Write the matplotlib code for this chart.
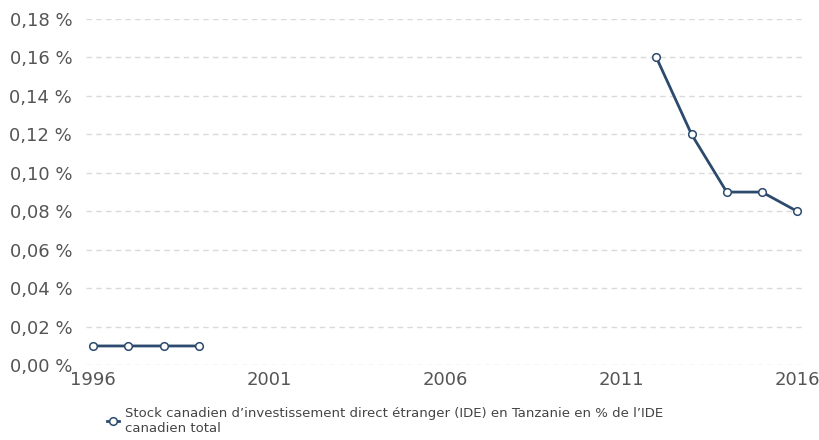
import numpy as np
import matplotlib.pyplot as plt

plt.rcParams['font.family'] = ['DejaVu Sans']

# Stock canadien d'IDE en Tanzanie, en % de l'IDE canadien total
years = np.arange(1996, 2017)
values = [0.01, 0.01, 0.01, 0.01,
          None, None, None, None, None, None, None, None, None, None, None, None,
          0.16, 0.12, 0.09, 0.09, 0.08]
y_ticks = [0.00, 0.02, 0.04, 0.06, 0.08, 0.10, 0.12, 0.14, 0.16, 0.18]
x_ticks = [1996, 2001, 2006, 2011, 2016]
label = ("Stock canadien d\u2019investissement direct \u00e9tranger (IDE) en Tanzanie en % de l\u2019IDE\n"
         "canadien total")

vals = np.array([np.nan if v is None else v for v in values], dtype=float)

fig = plt.figure(figsize=(8.2, 4.4), dpi=100)
ax = fig.add_axes([0.105, 0.170, 0.877, 0.787])

line_color = '#2b4a6d'
ax.plot(years, vals, color=line_color, linewidth=2, marker='o', markersize=5.5,
        markerfacecolor='white', markeredgecolor=line_color, markeredgewidth=1.1,
        label=label, zorder=3)

ax.set_xlim(1995.8, 2016.23)
ax.set_ylim(0, 0.18)
ax.set_yticks(y_ticks)
ax.set_yticklabels([f"{t:.2f} %".replace('.', ',') for t in y_ticks])
ax.set_xticks(x_ticks)
ax.set_xticklabels([str(t) for t in x_ticks])

ax.grid(axis='y', color='#dadada', linestyle=(0, (4, 3)), linewidth=1)
ax.set_axisbelow(True)
for s in ax.spines.values():
    s.set_visible(False)
ax.tick_params(axis='both', length=0, labelsize=13, labelcolor='#555555')
ax.tick_params(axis='x', pad=4)
ax.tick_params(axis='y', pad=10)

leg = fig.legend(loc='upper left', bbox_to_anchor=(0.131, 0.076), frameon=False,
                 fontsize=9.5, handlelength=0.9, handletextpad=0.45,
                 borderaxespad=0, borderpad=0)
for t in leg.get_texts():
    t.set_color('#444444')
    t.set_linespacing(1.25)

fig.savefig('out.png', dpi=100)
